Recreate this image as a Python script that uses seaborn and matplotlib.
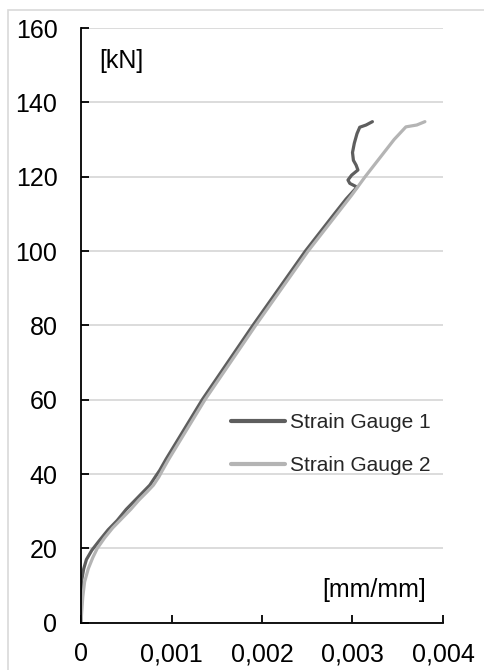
import matplotlib
matplotlib.use("Agg")
import matplotlib.pyplot as plt
from matplotlib.patches import Rectangle
import seaborn as sns
import pandas as pd

# Strain gauge readings: strain [mm/mm] vs. applied load [kN]
gauge1_strain = [0, 0.000002, 0.000005, 0.000008, 0.00003, 0.00006, 0.00012, 0.00020,
                 0.00030, 0.00040, 0.00050, 0.00060, 0.00068, 0.00076, 0.00082,
                 0.00087, 0.00094, 0.00109, 0.00134, 0.00162, 0.00190, 0.00219,
                 0.00248, 0.00264, 0.00280, 0.00293, 0.00305, 0.00297, 0.00295,
                 0.00299, 0.00306, 0.00304, 0.00301, 0.00300, 0.00302, 0.00305,
                 0.00308, 0.00315, 0.00322]
gauge1_load = [0, 3, 7, 11.5, 14.5, 17, 19.5, 22,
               25, 27.5, 30.5, 33, 35, 37, 39.2,
               41, 44, 50, 60, 70, 80, 90,
               100, 105, 110, 114, 117.2, 118.2, 119.1,
               120.4, 121.8, 123.1, 124.4, 126.5, 129, 131.6,
               133.3, 133.9, 134.8]

gauge2_strain = [0, 0.000008, 0.00002, 0.00004, 0.00008, 0.00013, 0.00018, 0.00026,
                 0.00035, 0.00045, 0.00055, 0.00064, 0.00073, 0.00080, 0.00086,
                 0.00090, 0.00097, 0.00112, 0.00137, 0.00165, 0.00193, 0.00222,
                 0.00251, 0.00267, 0.00283, 0.00299, 0.00314, 0.00330, 0.00346,
                 0.00359, 0.00371, 0.00380]
gauge2_load = [0, 3, 7, 11, 14.5, 17.5, 20, 22.8,
               25.5, 28, 30.5, 33, 35.2, 37, 39.2,
               41, 44, 50, 60, 70, 80, 90,
               100, 105, 110, 115, 120, 125, 130,
               133.4, 133.9, 134.8]

series_names = ["Strain Gauge 1", "Strain Gauge 2"]
series_colors = ["#5e5e5e", "#b4b4b4"]

x_ticks = [0, 0.001, 0.002, 0.003, 0.004]
x_tick_labels = ["0", "0,001", "0,002", "0,003", "0,004"]
y_ticks = [0, 20, 40, 60, 80, 100, 120, 140, 160]

df = pd.concat([
    pd.DataFrame({"strain": gauge1_strain, "load": gauge1_load, "gauge": series_names[0]}),
    pd.DataFrame({"strain": gauge2_strain, "load": gauge2_load, "gauge": series_names[1]}),
], ignore_index=True)

sns.set_theme(style="white")
plt.rcParams["font.family"] = ["Liberation Sans", "DejaVu Sans"]

W, H = 484, 670
fig = plt.figure(figsize=(W / 100, H / 100), dpi=100)
ax = fig.add_axes([81 / W, 1 - 622.7 / H, 362 / W, 594.7 / H])

sns.lineplot(data=df, x="strain", y="load", hue="gauge", hue_order=series_names,
             palette=series_colors, sort=False, estimator=None, linewidth=2.3,
             ax=ax, legend=True)
for ln in ax.lines:
    ln.set_solid_capstyle("round")
    ln.set_solid_joinstyle("round")

ax.set_xlim(0, 0.004)
ax.set_ylim(0, 160)
ax.set_xticks(x_ticks)
ax.set_xticklabels(x_tick_labels)
ax.set_yticks(y_ticks)
ax.set_xlabel("")
ax.set_ylabel("")

ax.yaxis.grid(True, color="#d9d9d9", linewidth=1.3)
ax.xaxis.grid(False)
ax.set_axisbelow(True)

for side in ("top", "right"):
    ax.spines[side].set_visible(False)
for side in ("left", "bottom"):
    ax.spines[side].set_color("black")
    ax.spines[side].set_linewidth(1.3)

ax.tick_params(axis="both", direction="in", length=6, width=1.3, color="black",
               labelsize=18, labelcolor="black")
ax.tick_params(axis="y", pad=17, left=True)
ax.tick_params(axis="x", pad=14, bottom=True)

ax.text(0.05, 0.932, "[kN]", transform=ax.transAxes, fontsize=18,
        ha="left", va="baseline", color="black")
ax.text(0.953, 0.0437, "[mm/mm]", transform=ax.transAxes, fontsize=18,
        ha="right", va="baseline", color="black")

handles, labels = ax.get_legend_handles_labels()
ax.legend(handles, labels, loc="upper left",
          bbox_to_anchor=(231 / W, 1 - 413 / H), bbox_transform=fig.transFigure,
          frameon=False, fontsize=15, handlelength=2.6, handletextpad=0.25,
          labelspacing=1.15, borderpad=0, borderaxespad=0)
for lh in ax.get_legend().get_lines():
    lh.set_linewidth(3)

# light outer frame around the chart area
fig.patches.append(Rectangle((8 / W, -0.05), 1.0, 1 - 10 / H + 0.05,
                             transform=fig.transFigure, fill=False,
                             edgecolor="#d9d9d9", linewidth=1.2))

fig.savefig("out.png", dpi=100)
